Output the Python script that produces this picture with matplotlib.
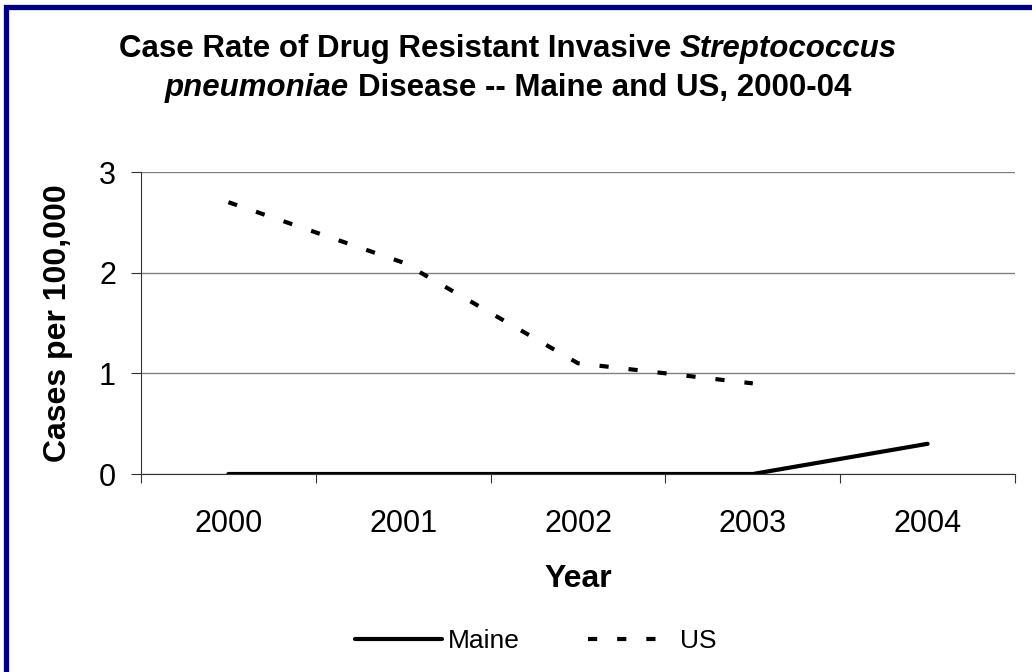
import numpy as np
import matplotlib
matplotlib.use("Agg")
import matplotlib.pyplot as plt
from matplotlib.lines import Line2D
from matplotlib.ticker import FixedLocator, NullFormatter, FixedFormatter

plt.rcParams['font.family'] = ['Liberation Sans', 'DejaVu Sans']

# === Data ===
years = ['2000', '2001', '2002', '2003', '2004']
maine = [0.0, 0.0, 0.0, 0.0, 0.3]
us = [2.7, 2.1, 1.1, 0.9]

W, H = 1032, 672
fig = plt.figure(figsize=(W / 100, H / 100), dpi=100)
ax = fig.add_axes([141 / W, 1 - 474 / H, (1015 - 141) / W, (474 - 172) / H])

x = np.arange(len(years))
ax.plot(x, maine, color='black', lw=3, solid_capstyle='round', label='Maine')
ax.plot(x[:len(us)], us, color='black', lw=3, dashes=(2.2, 4.8),
        dash_capstyle='butt', label='US')

ax.set_xlim(-0.5, 4.5)
ax.set_ylim(0, 3)
ax.set_yticks([0, 1, 2, 3])
ax.yaxis.grid(True, color='#808080', lw=1)
ax.set_axisbelow(True)

# category ticks between years, labels centred on years
ax.xaxis.set_major_locator(FixedLocator(np.arange(-0.5, 5, 1)))
ax.xaxis.set_major_formatter(NullFormatter())
ax.xaxis.set_minor_locator(FixedLocator(x))
ax.xaxis.set_minor_formatter(FixedFormatter(years))
ax.tick_params(axis='x', which='major', length=6.5, width=0.8, color='#333333')
ax.tick_params(axis='x', which='minor', length=0, pad=25, labelsize=22)
ax.tick_params(axis='y', length=7, width=0.8, color='#333333', pad=11, labelsize=22)

for s in ['top', 'right']:
    ax.spines[s].set_visible(False)
for s in ['left', 'bottom']:
    ax.spines[s].set_color('#333333')
    ax.spines[s].set_linewidth(0.8)

ax.set_ylabel('Cases per 100,000', fontsize=23, fontweight='bold')
ax.yaxis.set_label_coords(-0.078, 0.5)
ax.set_xlabel('Year', fontsize=23, fontweight='bold', va='top')
ax.xaxis.set_label_coords(0.5, -0.298)

fig.legend(loc='center', bbox_to_anchor=(536 / W, 1 - 641 / H), ncol=2,
           frameon=False, fontsize=19, handlelength=3.3, handletextpad=0.2,
           columnspacing=2.6)

# === Title with mixed bold / bold italic ===
renderer = fig.canvas.get_renderer()
tsize = 22.5


def measure(s, style):
    t = fig.text(0, 0, s, fontsize=tsize, fontweight='bold', fontstyle=style)
    w = t.get_window_extent(renderer).width
    t.remove()
    return w


space = measure('a a', 'normal') - measure('aa', 'normal')


def rich_line(pieces, cx, baseline):
    widths = [measure(s, st) for s, st in pieces]
    total = sum(widths) + space * (len(pieces) - 1)
    xpos = cx - total / 2
    for (s, st), w in zip(pieces, widths):
        fig.text(xpos / W, 1 - baseline / H, s, fontsize=tsize, fontweight='bold',
                 fontstyle=st, ha='left', va='baseline')
        xpos += w + space


rich_line([('Case Rate of Drug Resistant Invasive', 'normal'),
           ('Streptococcus', 'italic')], 508, 57)
rich_line([('pneumoniae', 'italic'),
           ('Disease -- Maine and US, 2000-04', 'normal')], 508, 96)

# navy frame on left and top edges
fig.add_artist(Line2D([6 / W, 6 / W, 1], [0, 1 - 6.5 / H, 1 - 6.5 / H],
                      transform=fig.transFigure, color='#000080', lw=3.8,
                      solid_joinstyle='miter'))

fig.savefig('out.png', dpi=100)
